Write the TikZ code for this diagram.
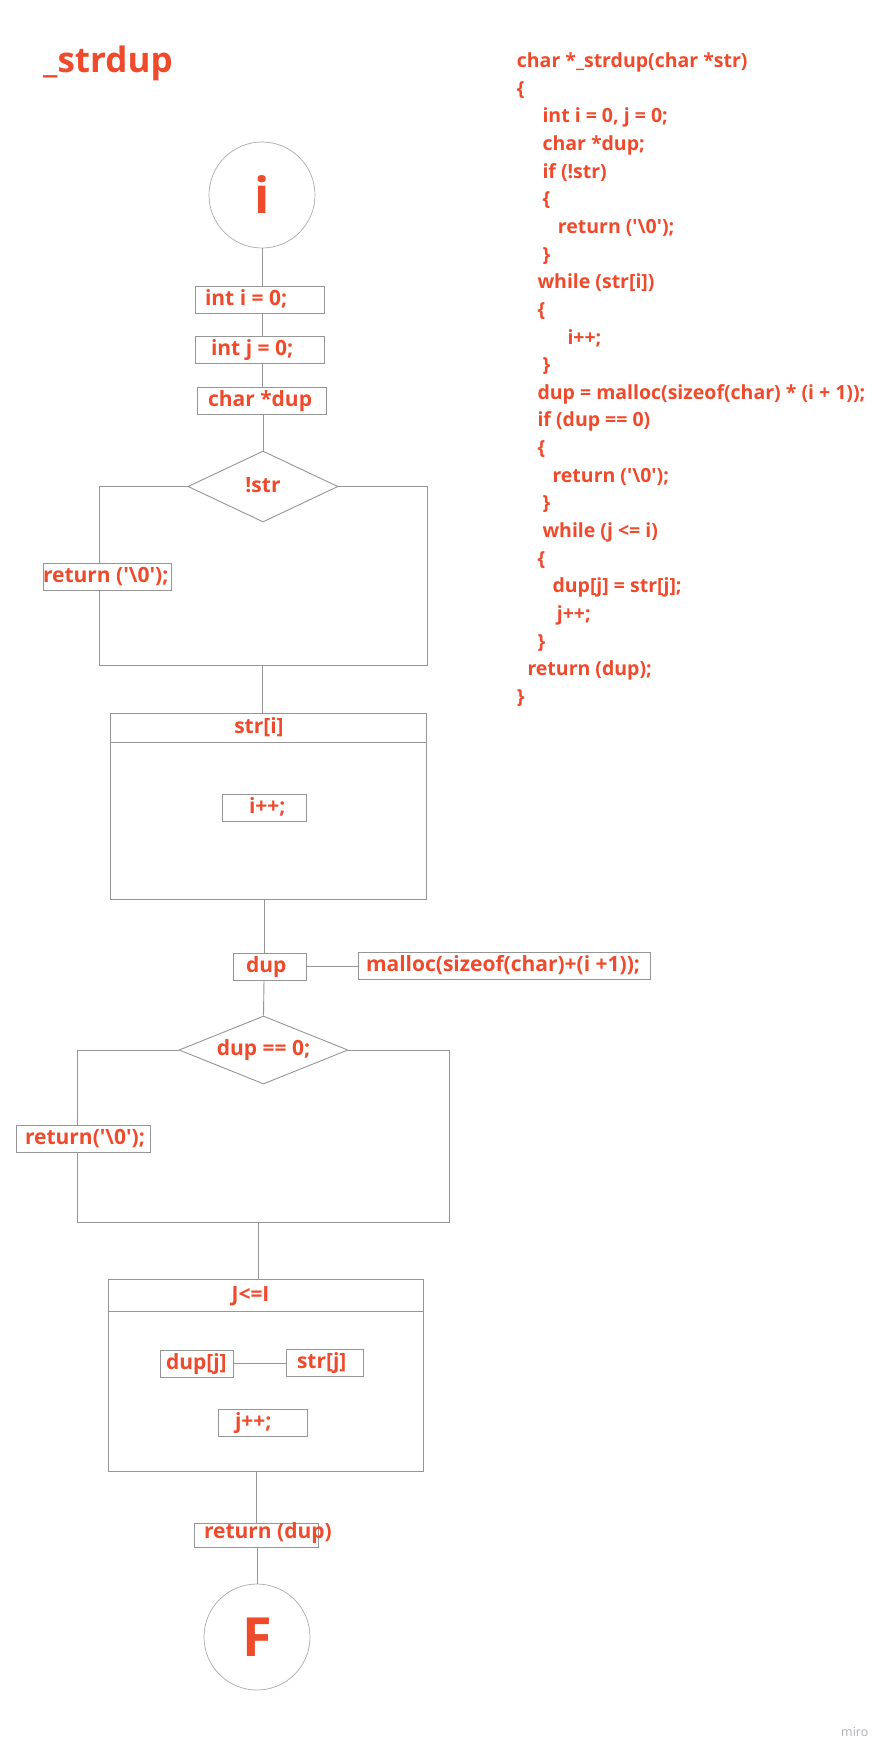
\documentclass[tikz,border=0pt]{standalone}
\usepackage{fontspec}
\usetikzlibrary{shapes.geometric}
\newfontfamily\opensans{Open Sans}[Ligatures=TeXOff]
\definecolor{ored}{RGB}{238,74,43}
\definecolor{lgrey}{RGB}{150,150,150}
\definecolor{cgrey}{RGB}{170,170,170}
\definecolor{mirogrey}{RGB}{175,175,182}
\newcommand\bt[3]{\hbox to #1pt{\hskip #2pt\relax #3\hss}}
\tikzset{
 every node/.style={font=\opensans\bfseries\fontsize{21}{25}\selectfont, text=ored, inner sep=0pt},
 lbl/.style={text height=16pt, text depth=5pt},
 box/.style={draw=lgrey, fill=white, line width=0.9pt, minimum height=27pt, text height=16pt, text depth=5pt},
 cond/.style={diamond, draw=lgrey, fill=white, line width=0.9pt, text height=16pt, text depth=5pt},
 term/.style={circle, draw=cgrey, line width=0.7pt, fill=white, minimum size=106pt},
 loopbox/.style={draw=lgrey, line width=0.9pt},
 link/.style={draw=lgrey, line width=0.9pt},
 code/.style={anchor=base west, font=\opensans\bfseries\fontsize{19.5}{24}\selectfont},
}
\begin{document}
\begin{tikzpicture}[x=1pt,y=-1pt]
\useasboundingbox[fill=white] (0,0) rectangle (889,1757);
% title
\node[anchor=base west, font=\opensans\bfseries\fontsize{35}{40}\selectfont] (title) at (43,72) {\_strdup};
% flow nodes
\node[term, font=\opensans\bfseries\fontsize{50}{60}\selectfont] (start) at (262,195) {i};
\node[box] (inti) at (259.5,299.5) {\bt{129}{10}{int i = 0;}};
\node[box] (intj) at (259.5,349.5) {\bt{129}{16}{int j = 0;}};
\node[box] (chardup) at (261.5,400.5) {\bt{129}{11}{char *dup}};
\node[cond, aspect=2.11, minimum width=150pt, minimum height=71pt] (dia1) at (263,486.5) {!str};
\node[box] (ret1) at (107,576.5) {\bt{128}{0}{return ('\textbackslash0');}};
\node[loopbox, minimum width=316pt, minimum height=186pt] (w1) at (268,806) {};
\node[lbl] (w1t) at (259,728) {str[i]};
\node[box] (ipp) at (264,807.5) {\bt{84}{27}{i++;}};
\node[box] (dup) at (269.5,966.5) {\bt{73}{13}{dup}};
\node[box] (malloc) at (504,965.5) {\bt{292}{8}{malloc(sizeof(char)+(i +1));}};
\node[cond, aspect=2.49, minimum width=169pt, minimum height=68pt] (dia2) at (263.5,1050) {dup == 0;};
\node[box] (ret2) at (83.25,1139) {\bt{133.5}{8.5}{return('\textbackslash0');}};
\node[loopbox, minimum width=315pt, minimum height=192pt] (w2) at (265.5,1375) {};
\node[lbl] (w2t) at (250.5,1296) {J<=I};
\node[box] (dupj) at (196.5,1363.5) {\bt{73}{6}{dup[j]}};
\node[box] (strj) at (324.5,1362.5) {\bt{77}{11}{str[j]}};
\node[box] (jpp) at (262.5,1422.5) {\bt{89}{17}{j++;}};
\node[box, minimum height=24pt] (retdup) at (256,1535) {\raisebox{2pt}{\bt{124}{10}{return (dup)}}};
\node[term, font=\opensans\bfseries\fontsize{54}{60}\selectfont] (end) at (257,1637) {F};
% loop headers
\draw[link] ([yshift=-30pt]w1.north west) -- ([yshift=-30pt]w1.north east);
\draw[link] ([yshift=-33pt]w2.north west) -- ([yshift=-33pt]w2.north east);
% coordinates
\coordinate (d1l) at (99,486.5);
\coordinate (d1r) at (427,486.5);
\coordinate (d1bl) at (99,665);
\coordinate (d1br) at (427,665);
\coordinate (d1m) at (262,665);
\coordinate (s2) at (264,899);
\coordinate (d2l) at (77,1050);
\coordinate (d2r) at (449,1050);
\coordinate (d2bl) at (77,1222);
\coordinate (d2br) at (449,1222);
\coordinate (d2m) at (258.5,1222);
\coordinate (s3) at (256.5,1471);
% connectors
\draw[link] (start.south) -- (start.south |- inti.north);
\draw[link] (inti.south -| start.south) -- (intj.north -| start.south);
\draw[link] (intj.south -| start.south) -- (chardup.north -| start.south);
\draw[link] (chardup.south -| dia1.north) -- (dia1.north);
\draw[link] (dia1.west) -- (d1l) -- (d1l |- ret1.north);
\draw[link] (d1l |- ret1.south) -- (d1bl) -- (d1br) -- (d1r) -- (dia1.east);
\draw[link] (d1m) -- (d1m |- w1.north);
\draw[link] (w1.south -| s2) -- (dup.north -| s2);
\draw[link] (dup.south -| s2) -- (dia2.north);
\draw[link] (dup.east) -- (dup.east -| malloc.west);
\draw[link] (dia2.west) -- (d2l) -- (d2l |- ret2.north);
\draw[link] (d2l |- ret2.south) -- (d2bl) -- (d2br) -- (d2r) -- (dia2.east);
\draw[link] (d2m) -- (d2m |- w2.north);
\draw[link] (dupj.east) -- (dupj.east -| strj.west);
\draw[link] (w2.south -| s3) -- (retdup.north -| s3);
\draw[link] (retdup.south -| end.north) -- (end.north);
% code
\foreach \x/\t [count=\k] in {
 516.7/{char *\_strdup(char *str)},
 516.7/{\{},
 542.3/{int i = 0, j = 0;},
 542.3/{char *dup;},
 542.3/{if (!str)},
 542.3/{\{},
 557.7/{return ('\textbackslash0');},
 542.3/{\}},
 537.3/{while (str[i])},
 537.3/{\{},
 567.3/{i++;},
 542.3/{\}},
 537.3/{dup = malloc(sizeof(char) * (i + 1));},
 537.3/{if (dup == 0)},
 537.3/{\{},
 552.3/{return ('\textbackslash0');},
 542.3/{\}},
 542.3/{while (j <= i)},
 537.3/{\{},
 552.3/{dup[j] = str[j];},
 556.7/{j++;},
 537.3/{\}},
 527.3/{return (dup);},
 516.7/{\}}}
 {\node[code] (c\k) at (\x, {67.5+27.65*(\k-1)}) {\t};}
% watermark
\node[anchor=base west, font=\opensans\fontsize{12.5}{15}\selectfont, text=mirogrey] (miro) at (841,1736) {miro};
\end{tikzpicture}
\end{document}
